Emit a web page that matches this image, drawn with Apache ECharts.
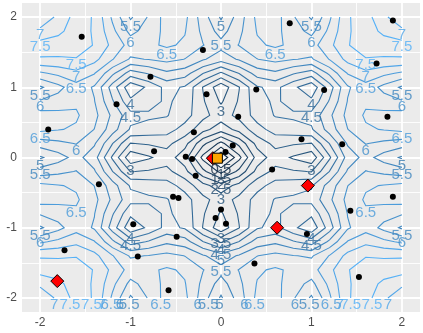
<!DOCTYPE html>
<html><head><meta charset="utf-8">
<script src="https://cdn.jsdelivr.net/npm/echarts@6/dist/echarts.min.js"></script>
<style>html,body{margin:0;padding:0;background:#fff}#c{width:423px;height:333px}</style>
</head><body><div id="c"></div>
<script>
// ---------- data ----------
const xTicks = [-2, -1, 0, 1, 2];
const yTicks = [-2, -1, 0, 1, 2];
const minorBreaks = [-1.5, -0.5, 0.5, 1.5];
const gridX = [-2,-1.8,-1.6,-1.4,-1.2,-1,-0.8,-0.6,-0.4,-0.2,0,0.2,0.4,0.6,0.8,1,1.2,1.4,1.6,1.8,2];
const gridY = [-2,-1.8,-1.6,-1.4,-1.2,-1,-0.8,-0.6,-0.4,-0.2,0,0.2,0.4,0.6,0.8,1,1.2,1.4,1.6,1.8,2];
const levels = [0.5,1,1.5,2,2.5,3,3.5,4,4.5,5,5.5,6,6.5,7,7.5];
// surface values, rows = gridY (bottom to top), columns = gridX
const zGrid = [
[6.59,7.12,7.70,7.46,6.41,5.42,6.05,6.73,6.63,5.74,4.93,5.74,6.63,6.73,6.05,5.42,6.41,7.46,7.70,7.12,6.59],
[7.12,7.40,7.71,7.45,6.63,5.85,6.22,6.65,6.53,5.88,5.29,5.88,6.53,6.65,6.22,5.85,6.63,7.45,7.71,7.40,7.12],
[7.70,7.71,7.75,7.47,6.87,6.30,6.41,6.57,6.43,6.02,5.67,6.02,6.43,6.57,6.41,6.30,6.87,7.47,7.75,7.71,7.70],
[7.46,7.45,7.47,7.16,6.53,5.94,6.02,6.15,5.99,5.56,5.21,5.56,5.99,6.15,6.02,5.94,6.53,7.16,7.47,7.45,7.46],
[6.41,6.63,6.87,6.53,5.62,4.76,5.05,5.40,5.22,4.52,3.92,4.52,5.22,5.40,5.05,4.76,5.62,6.53,6.87,6.63,6.41],
[5.42,5.85,6.30,5.94,4.76,3.63,4.11,4.66,4.44,3.48,2.64,3.48,4.44,4.66,4.11,3.63,4.76,5.94,6.30,5.85,5.42],
[6.05,6.22,6.41,6.02,5.05,4.11,4.31,4.58,4.32,3.56,2.93,3.56,4.32,4.58,4.31,4.11,5.05,6.02,6.41,6.22,6.05],
[6.73,6.65,6.57,6.15,5.40,4.66,4.58,4.53,4.21,3.65,3.25,3.65,4.21,4.53,4.58,4.66,5.40,6.15,6.57,6.65,6.73],
[6.63,6.53,6.43,5.99,5.22,4.44,4.32,4.21,3.81,3.17,2.72,3.17,3.81,4.21,4.32,4.44,5.22,5.99,6.43,6.53,6.63],
[5.74,5.88,6.02,5.56,4.52,3.48,3.56,3.65,3.17,2.14,1.35,2.14,3.17,3.65,3.56,3.48,4.52,5.56,6.02,5.88,5.74],
[4.93,5.29,5.67,5.21,3.92,2.64,2.93,3.25,2.72,1.35,0.00,1.35,2.72,3.25,2.93,2.64,3.92,5.21,5.67,5.29,4.93],
[5.74,5.88,6.02,5.56,4.52,3.48,3.56,3.65,3.17,2.14,1.35,2.14,3.17,3.65,3.56,3.48,4.52,5.56,6.02,5.88,5.74],
[6.63,6.53,6.43,5.99,5.22,4.44,4.32,4.21,3.81,3.17,2.72,3.17,3.81,4.21,4.32,4.44,5.22,5.99,6.43,6.53,6.63],
[6.73,6.65,6.57,6.15,5.40,4.66,4.58,4.53,4.21,3.65,3.25,3.65,4.21,4.53,4.58,4.66,5.40,6.15,6.57,6.65,6.73],
[6.05,6.22,6.41,6.02,5.05,4.11,4.31,4.58,4.32,3.56,2.93,3.56,4.32,4.58,4.31,4.11,5.05,6.02,6.41,6.22,6.05],
[5.42,5.85,6.30,5.94,4.76,3.63,4.11,4.66,4.44,3.48,2.64,3.48,4.44,4.66,4.11,3.63,4.76,5.94,6.30,5.85,5.42],
[6.41,6.63,6.87,6.53,5.62,4.76,5.05,5.40,5.22,4.52,3.92,4.52,5.22,5.40,5.05,4.76,5.62,6.53,6.87,6.63,6.41],
[7.46,7.45,7.47,7.16,6.53,5.94,6.02,6.15,5.99,5.56,5.21,5.56,5.99,6.15,6.02,5.94,6.53,7.16,7.47,7.45,7.46],
[7.70,7.71,7.75,7.47,6.87,6.30,6.41,6.57,6.43,6.02,5.67,6.02,6.43,6.57,6.41,6.30,6.87,7.47,7.75,7.71,7.70],
[7.12,7.40,7.71,7.45,6.63,5.85,6.22,6.65,6.53,5.88,5.29,5.88,6.53,6.65,6.22,5.85,6.63,7.45,7.71,7.40,7.12],
[6.59,7.12,7.70,7.46,6.41,5.42,6.05,6.73,6.63,5.74,4.93,5.74,6.63,6.73,6.05,5.42,6.41,7.46,7.70,7.12,6.59]
];
const samplePoints = [
[-1.54,1.72],[-0.78,1.15],[-1.155,0.76],[-1.91,0.40],[-0.30,0.36],[-0.16,0.90],[-0.20,1.53],[-0.74,0.09],[-0.39,0.01],[-0.32,-0.02],
[0.76,1.91],[1.90,1.95],[1.72,1.34],[0.39,0.97],[1.14,0.96],[0.19,0.58],[1.84,0.58],[0.89,0.26],[1.34,0.19],[0.13,0.17],[0.05,0.08],[0.565,-0.17],
[-1.35,-0.38],[-0.53,-0.56],[-0.47,-0.575],[-0.28,-0.26],[-0.97,-0.95],[-0.49,-1.13],[-1.73,-1.32],[-0.92,-1.41],[-0.58,-1.89],
[0.0,-0.74],[-0.06,-0.86],[0.055,-0.945],[1.43,-0.76],[1.90,-0.56],[0.37,-1.51],[1.525,-1.70],[0.95,-1.09]
];
const proposalPoints = [[-1.81,-1.76],[0.96,-0.40],[0.62,-1.00],[-0.09,-0.01]];
const bestPoint = [[-0.04,-0.01]];

// ---------- layout / style ----------
const FONT = 'Liberation Sans, Arial, sans-serif';
const G = {left: 22, right: 3, top: 3, bottom: 21};

// colour ramp (CIELAB) #132B43 -> #56B1F7
function lin(c){c/=255;return c<=0.04045?c/12.92:Math.pow((c+0.055)/1.055,2.4);}
function unlin(c){c=c<=0.0031308?12.92*c:1.055*Math.pow(c,1/2.4)-0.055;return Math.max(0,Math.min(255,Math.round(c*255)));}
function toLab(h){const r=lin(parseInt(h.substr(1,2),16)),g=lin(parseInt(h.substr(3,2),16)),b=lin(parseInt(h.substr(5,2),16));
 const X=(0.4124564*r+0.3575761*g+0.1804375*b)/0.95047,Y=(0.2126729*r+0.7151522*g+0.0721750*b),Z=(0.0193339*r+0.1191920*g+0.9503041*b)/1.08883;
 const f=t=>t>0.008856?Math.cbrt(t):7.787*t+16/116;const fx=f(X),fy=f(Y),fz=f(Z);return [116*fy-16,500*(fx-fy),200*(fy-fz)];}
function fromLab(L,a,b){const fy=(L+16)/116,fx=fy+a/500,fz=fy-b/200;const fi=t=>t>0.206893?t*t*t:(t-16/116)/7.787;
 const X=fi(fx)*0.95047,Y=fi(fy),Z=fi(fz)*1.08883;
 const r=3.2404542*X-1.5371385*Y-0.4985314*Z,g=-0.9692660*X+1.8760108*Y+0.0415560*Z,bb=0.0556434*X-0.2040259*Y+1.0572252*Z;
 return 'rgb('+unlin(r)+','+unlin(g)+','+unlin(bb)+')';}
const labLo=toLab('#132B43'),labHi=toLab('#56B1F7');
function levelColor(v){const t=(v-levels[0])/(levels[levels.length-1]-levels[0]);
 return fromLab(labLo[0]+t*(labHi[0]-labLo[0]),labLo[1]+t*(labHi[1]-labLo[1]),labLo[2]+t*(labHi[2]-labLo[2]));}

// ---------- marching squares ----------
function contourLevel(L){
 const nr=gridY.length,nc=gridX.length,pts={},adj={};
 function ep(key,ax,ay,va,bx,by,vb){if(!(key in pts)){const t=(L-va)/(vb-va);pts[key]=[ax+t*(bx-ax),ay+t*(by-ay)];}return key;}
 function link(a,b){(adj[a]=adj[a]||[]).push(b);(adj[b]=adj[b]||[]).push(a);}
 for(let r=0;r<nr-1;r++)for(let c=0;c<nc-1;c++){
  const v00=zGrid[r][c],v10=zGrid[r][c+1],v11=zGrid[r+1][c+1],v01=zGrid[r+1][c];
  const x0=gridX[c],x1=gridX[c+1],y0=gridY[r],y1=gridY[r+1];
  const b00=v00>=L,b10=v10>=L,b11=v11>=L,b01=v01>=L;const E={};let n=0;
  if(b00!==b10){E.B=ep('h'+r+'_'+c,x0,y0,v00,x1,y0,v10);n++;}
  if(b10!==b11){E.R=ep('v'+r+'_'+(c+1),x1,y0,v10,x1,y1,v11);n++;}
  if(b01!==b11){E.T=ep('h'+(r+1)+'_'+c,x0,y1,v01,x1,y1,v11);n++;}
  if(b00!==b01){E.F=ep('v'+r+'_'+c,x0,y0,v00,x0,y1,v01);n++;}
  if(n===2){const k=Object.keys(E);link(E[k[0]],E[k[1]]);}
  else if(n===4){const ctr=(v00+v10+v11+v01)/4>=L;
   if(b00){if(ctr){link(E.B,E.R);link(E.F,E.T);}else{link(E.B,E.F);link(E.R,E.T);}}
   else{if(ctr){link(E.B,E.F);link(E.R,E.T);}else{link(E.B,E.R);link(E.F,E.T);}}}
 }
 const used=new Set(),pieces=[];
 function walk(s){const path=[s];used.add(s);let cur=s;
  while(true){const nb=(adj[cur]||[]).filter(k=>!used.has(k));
   if(!nb.length){if(path.length>2&&adj[cur].includes(s))path.push(s);break;}
   cur=nb[0];used.add(cur);path.push(cur);}
  return path.map(k=>pts[k]);}
 for(const k in adj)if(adj[k].length===1&&!used.has(k))pieces.push(walk(k));
 for(const k in adj)if(!used.has(k))pieces.push(walk(k));
 return pieces;
}
// each contour piece is labelled at its lowest point
function labelAnchor(p){let best=0;
 for(let k=1;k<p.length;k++)if(p[k][1]<p[best][1]-1e-9)best=k;
 return p[best];}

const series=[];
// grid lines
const gl=[];
minorBreaks.forEach(v=>{gl.push({xAxis:v,lineStyle:{width:0.9}});gl.push({yAxis:v,lineStyle:{width:0.9}});});
xTicks.forEach(v=>gl.push({xAxis:v,lineStyle:{width:1.8}}));
yTicks.forEach(v=>gl.push({yAxis:v,lineStyle:{width:1.8}}));
series.push({type:'line',data:[],z:1,silent:true,markLine:{z:1,silent:true,symbol:['none','none'],label:{show:false},
 lineStyle:{color:'#FFFFFF',type:'solid'},emphasis:{disabled:true},animation:false,data:gl}});

const labelData=[];
levels.forEach(L=>{
 const col=levelColor(L);const pieces=contourLevel(L);
 series.push({type:'lines',coordinateSystem:'cartesian2d',polyline:true,z:10,silent:true,animation:false,
  lineStyle:{color:col,width:1.1,opacity:1},data:pieces.map(p=>({coords:p}))});
 pieces.forEach(p=>{const q=labelAnchor(p);labelData.push({name:String(L),value:[q[0],q[1]],label:{color:col}});});
});
series.push({type:'scatter',z:11,silent:true,symbolSize:0,animation:false,data:labelData,
 label:{show:true,position:'inside',offset:[0,7],formatter:'{b}',fontSize:15,fontFamily:FONT}});
series.push({type:'scatter',z:12,silent:true,animation:false,symbol:'diamond',symbolSize:13,data:proposalPoints,
 itemStyle:{color:'#FF0000',borderColor:'#000',borderWidth:1,opacity:1}});
series.push({type:'scatter',z:13,silent:true,animation:false,symbol:'rect',symbolSize:10,data:bestPoint,
 itemStyle:{color:'#FFA500',borderColor:'#000',borderWidth:1,opacity:1}});
series.push({type:'scatter',z:14,silent:true,animation:false,symbol:'circle',symbolSize:6,data:samplePoints,
 itemStyle:{color:'#000000',opacity:1}});

const axisCommon={type:'value',min:-2.2,max:2.2,axisLine:{show:false},splitLine:{show:false},
 axisTick:{show:true,length:4,lineStyle:{color:'#333333',width:1.1}}};
const chart=echarts.init(document.getElementById('c'),null,{renderer:'canvas'});
chart.setOption({
 animation:false,
 grid:{left:G.left,right:G.right,top:G.top,bottom:G.bottom,show:true,backgroundColor:'#EBEBEB',borderWidth:0},
 xAxis:Object.assign({},axisCommon,{axisTick:Object.assign({},axisCommon.axisTick,{customValues:xTicks}),
  axisLabel:{customValues:xTicks,color:'#4D4D4D',fontSize:12,margin:5,fontFamily:FONT}}),
 yAxis:Object.assign({},axisCommon,{axisTick:Object.assign({},axisCommon.axisTick,{customValues:yTicks}),
  axisLabel:{customValues:yTicks,color:'#4D4D4D',fontSize:12,margin:5,fontFamily:FONT}}),
 series:series
});
</script></body></html>
